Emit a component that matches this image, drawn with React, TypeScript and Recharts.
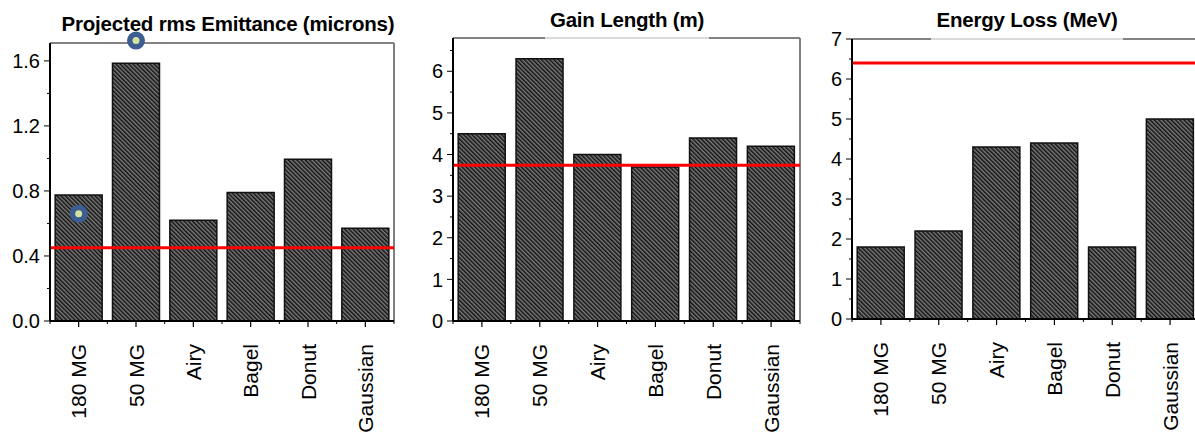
import React from "react";
import { ComposedChart, Bar, XAxis, YAxis, ReferenceLine, ReferenceDot, ReferenceArea } from "recharts";

const categories = ["180 MG", "50 MG", "Airy", "Bagel", "Donut", "Gaussian"];

// Projected rms emittance (microns)
const emittance = [0.775, 1.585, 0.62, 0.79, 0.995, 0.57];
const emittanceTarget = 0.45;
const emittanceTicks = [0, 0.2, 0.4, 0.6, 0.8, 1.0, 1.2, 1.4, 1.6];
const emittanceLabels = ["0.0", "", "0.4", "", "0.8", "", "1.2", "", "1.6"];
const emittanceMax = 1.71;
const markerCats = ["180 MG", "50 MG"];
const markerVals = [0.66, 1.725];

// Gain length (m)
const gainLength = [4.5, 6.3, 4.0, 3.7, 4.4, 4.2];
const gainTarget = 3.74;
const gainTicks = [0, 0.5, 1, 1.5, 2, 2.5, 3, 3.5, 4, 4.5, 5, 5.5, 6, 6.5];
const gainLabels = ["0", "", "1", "", "2", "", "3", "", "4", "", "5", "", "6", ""];
const gainMax = 6.8;

// Energy loss (MeV)
const energyLoss = [1.8, 2.2, 4.3, 4.4, 1.8, 5.0];
const energyTarget = 6.4;
const energyTicks = [0, 0.5, 1, 1.5, 2, 2.5, 3, 3.5, 4, 4.5, 5, 5.5, 6, 6.5, 7];
const energyLabels = ["0", "", "1", "", "2", "", "3", "", "4", "", "5", "", "6", "", "7"];
const energyMax = 7;

const FONT = "'Liberation Sans', Arial, Helvetica, sans-serif";
const Y_TICK = 6;
const Y_GAP = 4;
const X_TICK = 6;
const X_GAP = 17;

const YTick = (props: any) => {
  const { x, y, payload, ticks, labels } = props;
  const i = ticks.indexOf(payload.value);
  const label = i >= 0 ? labels[i] : "";
  const major = label !== "";
  const ax = x + Y_TICK + Y_GAP;
  return (
    <g>
      <line x1={ax - (major ? 6 : 3)} x2={ax} y1={y} y2={y} stroke="#000" strokeWidth={1} />
      {major && (
        <text x={x} y={y} dy="0.36em" textAnchor="end" fontSize={20} fill="#000" fontFamily={FONT}>
          {label}
        </text>
      )}
    </g>
  );
};

const XTick = (props: any) => {
  const { x, y, payload, index, band } = props;
  const ay = y - X_TICK - X_GAP;
  return (
    <g>
      <line x1={x} x2={x} y1={ay} y2={ay + 6} stroke="#000" strokeWidth={1.2} />
      <line x1={x - band / 2} x2={x - band / 2} y1={ay} y2={ay + 3} stroke="#000" strokeWidth={1} />
      {index === categories.length - 1 && (
        <line x1={x + band / 2} x2={x + band / 2} y1={ay} y2={ay + 3} stroke="#000" strokeWidth={1} />
      )}
      <text
        x={x}
        y={y}
        transform={`rotate(-90 ${x} ${y})`}
        textAnchor="end"
        dominantBaseline="central"
        fontSize={21}
        fill="#000"
        fontFamily={FONT}
      >
        {payload.value}
      </text>
    </g>
  );
};

const Marker = (p: any) => (
  <g>
    <circle cx={p.cx} cy={p.cy} r={9} fill="#3b5d91" />
    <circle cx={p.cx} cy={p.cy} r={3.5} fill="#d4e2a0" />
  </g>
);

interface PanelProps {
  id: string;
  left: number;
  width: number;
  yWidth: number;
  mTop: number;
  mRight: number;
  xHeight: number;
  values: number[];
  target: number;
  ticks: number[];
  labels: string[];
  max: number;
  markers?: boolean;
}

const Panel = (p: PanelProps) => {
  const data = categories.map((name, i) => ({ name, v: p.values[i] }));
  const band = (p.width - p.yWidth - p.mRight) / categories.length;
  return (
    <div style={{ position: "absolute", left: p.left, top: 0 }}>
      <ComposedChart
        width={p.width}
        height={433}
        data={data}
        margin={{ top: p.mTop, right: p.mRight, bottom: 0, left: 0 }}
        barCategoryGap="9%"
      >
        <defs>
          <pattern
            id={`hatch-${p.id}`}
            width={3}
            height={3}
            patternUnits="userSpaceOnUse"
            patternTransform="rotate(-45)"
          >
            <rect width={3} height={3} fill="#7a7a7a" />
            <line x1={0.75} y1={0} x2={0.75} y2={3} stroke="#111" strokeWidth={1.5} />
          </pattern>
        </defs>
        <XAxis
          dataKey="name"
          interval={0}
          height={p.xHeight}
          tickSize={X_TICK}
          tickMargin={X_GAP}
          tickLine={false}
          axisLine={{ stroke: "#000", strokeWidth: 2 }}
          tick={(t: any) => <XTick {...t} band={band} />}
        />
        <YAxis
          width={p.yWidth}
          domain={[0, p.max]}
          ticks={p.ticks}
          interval={0}
          tickSize={Y_TICK}
          tickMargin={Y_GAP}
          tickLine={false}
          axisLine={{ stroke: "#000", strokeWidth: 2 }}
          tick={(t: any) => <YTick {...t} ticks={p.ticks} labels={p.labels} />}
        />
        {/* plot frame: black right edge, grey top edge */}
        <ReferenceArea y1={0} y2={p.max} fill="none" stroke="#000" strokeWidth={1} ifOverflow="visible" />
        <ReferenceLine y={p.max} stroke="#858585" strokeWidth={1.5} ifOverflow="visible" />
        <Bar
          dataKey="v"
          fill={`url(#hatch-${p.id})`}
          stroke="#111"
          strokeWidth={1.5}
          isAnimationActive={false}
        />
        <ReferenceLine y={p.target} stroke="#ff0000" strokeWidth={3} />
        {p.markers &&
          markerCats.map((c, i) => (
            <ReferenceDot key={c} x={c} y={markerVals[i]} r={9} ifOverflow="visible" shape={Marker} />
          ))}
      </ComposedChart>
    </div>
  );
};

const Title = ({ text, center, baseline, veil }: { text: string; center: number; baseline: number; veil?: number }) => (
  <div
    style={{
      position: "absolute",
      left: center - 220,
      width: 440,
      top: baseline - 17,
      textAlign: "center",
      fontFamily: FONT,
      fontWeight: "bold",
      fontSize: 20.5,
      lineHeight: "20px",
      letterSpacing: -0.2,
    }}
  >
    <span
      style={{
        display: "inline-block",
        padding: "0 5px",
        height: veil ?? 20,
        background: veil ? "rgba(255,255,255,0.7)" : "transparent",
      }}
    >
      {text}
    </span>
  </div>
);

export default function App() {
  return (
    <div
      style={{
        position: "absolute",
        left: 0,
        top: 0,
        width: 1195,
        height: 433,
        overflow: "hidden",
        background: "#fff",
      }}
    >
      <Panel
        id="e"
        left={0}
        width={400}
        yWidth={50}
        mTop={43}
        mRight={6}
        xHeight={112}
        values={emittance}
        target={emittanceTarget}
        ticks={emittanceTicks}
        labels={emittanceLabels}
        max={emittanceMax}
        markers
      />
      <Panel
        id="g"
        left={400}
        width={405}
        yWidth={53}
        mTop={38}
        mRight={5}
        xHeight={112}
        values={gainLength}
        target={gainTarget}
        ticks={gainTicks}
        labels={gainLabels}
        max={gainMax}
      />
      <Panel
        id="l"
        left={800}
        width={400}
        yWidth={52}
        mTop={39}
        mRight={1}
        xHeight={114}
        values={energyLoss}
        target={energyTarget}
        ticks={energyTicks}
        labels={energyLabels}
        max={energyMax}
      />
      <Title text="Projected rms Emittance (microns)" center={228} baseline={31} />
      <Title text="Gain Length (m)" center={627} baseline={27} veil={30} />
      <Title text="Energy Loss (MeV)" center={1027} baseline={27} veil={30} />
    </div>
  );
}
